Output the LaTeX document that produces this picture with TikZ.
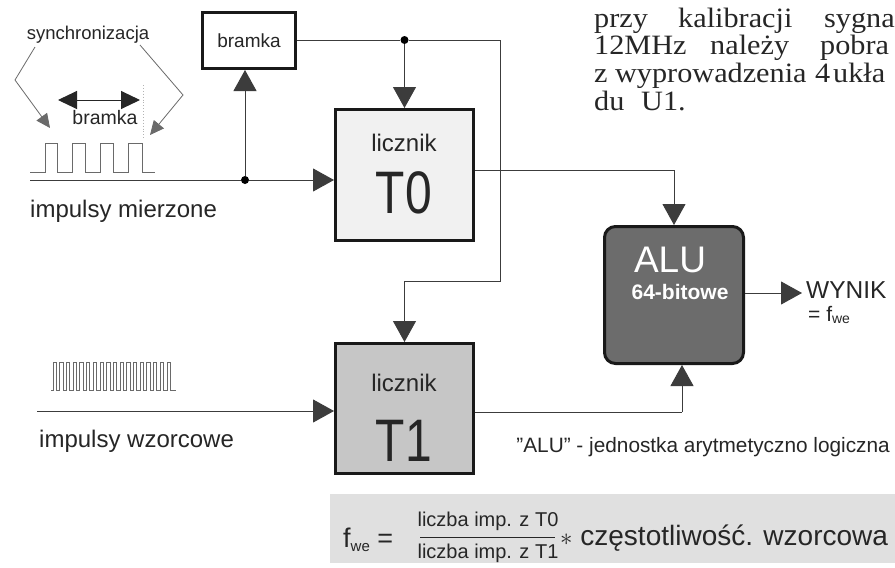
\documentclass[tikz,border=0pt]{standalone}
\usepackage{fontspec}
\setmainfont{Liberation Sans}
\newfontfamily\serifpar[FakeStretch=1.08]{Liberation Serif}
\newfontfamily\narrowsans[FakeStretch=0.8]{Liberation Sans}
\usetikzlibrary{arrows.meta,calc}
\newcommand\fsz[1]{\fontsize{#1pt}{#1pt}\selectfont}
\definecolor{wirec}{HTML}{3C3C3C}
\definecolor{sigc}{HTML}{6A6A6A}
\definecolor{tzero}{HTML}{F1F1F1}
\definecolor{tone}{HTML}{C6C6C6}
\definecolor{aluc}{HTML}{6C6C6C}
\definecolor{bandc}{HTML}{E0E0E0}
\definecolor{txtc}{HTML}{262626}
\tikzset{
  wire/.style={draw=wirec, line width=0.9pt},
  bigtip/.style={-{Triangle[length=21pt,width=23pt]}},
  smalltip/.style={-{Triangle[length=14pt,width=13pt]}},
  blockbox/.style={draw=black!90, line width=3pt, inner sep=0pt},
  junction/.style={circle, fill=black, inner sep=0pt, minimum size=8pt},
  lbl/.style={text=txtc, inner sep=0pt},
  parword/.style={text=txtc, inner sep=0pt, anchor=base west, font=\serifpar\fsz{28}},
}
\begin{document}
\begin{tikzpicture}[x=1pt,y=-1pt]
\useasboundingbox (0,0) rectangle (895,568);
\fill[white] (0,0) rectangle (895,568);

% formula band
\fill[bandc] (330,494) rectangle (895,563);

% blocks
\node[blockbox, fill=white, minimum width=93pt, minimum height=56pt] (bramka) at (249,40.5) {};
\node[lbl, font=\fsz{19}] at (bramka.center) {bramka};
\node[blockbox, fill=tzero, minimum width=138pt, minimum height=131pt] (T0) at (404.5,175) {};
\node[blockbox, fill=tone, minimum width=138pt, minimum height=130pt] (T1) at (404.5,408.5) {};
\node[blockbox, fill=aluc, rounded corners=11pt, minimum width=139pt, minimum height=137pt] (ALU) at (674,295) {};

\node[lbl, font=\fsz{24}] (l0) at (404,143) {licznik};
\node[lbl, font=\narrowsans\fsz{60}] (n0) at (404,193) {T0};
\node[lbl, font=\fsz{24}] (l1) at (404,383) {licznik};
\node[lbl, font=\narrowsans\fsz{60}] (n1) at (404,441) {T1};
\node[lbl, text=white, anchor=base, text depth=0pt, font=\fsz{37}] (alut) at (670,272) {ALU};
\node[lbl, text=white, anchor=base, text depth=0pt, font=\bfseries\fsz{21}] (alub) at (680,299) {64-bitowe};

% coordinates
\coordinate (c1) at (500,40);
\coordinate (c2) at (500,281);
\coordinate (inm) at (30,180);
\coordinate (inw) at (37,411);
\coordinate (k1) at (674,170);
\coordinate (k2) at (682,412);
\coordinate (k3) at (802,293);

% junctions
\node[junction] (j1) at (T0.north |- c1) {};
\node[junction] (j2) at (245,180) {};

% connectors
\draw[wire] (bramka.east |- c1) -- (j1) -- (c1) -- (c2) -- (c2 -| T1.north);
\draw[wire, bigtip] (c2 -| T1.north) -- (T1.north);
\draw[wire, bigtip] (j1) -- (T0.north);
\draw[wire] (inm) -- (j2);
\draw[wire, bigtip] (j2) -- (inm -| T0.west);
\draw[wire, bigtip] (j2) -- (j2 |- bramka.south);
\draw[wire] (T0.east |- k1) -- (k1);
\draw[wire, bigtip] (k1) -- (ALU.north);
\draw[wire, bigtip] (inw) -- (inw -| T1.west);
\draw[wire] (T1.east |- k2) -- (k2);
\draw[wire, bigtip] (k2) -- (k2 |- ALU.south);
\draw[wire, bigtip] (k3 -| ALU.east) -- (k3);

% output text
\node[lbl, anchor=west, font=\fsz{24.5}] (wynik) at (806,290) {WYNIK};
\node[lbl, anchor=west, font=\fsz{21}] (fwe) at (808,315) {= f\raisebox{-0.25ex}{\fsz{14}we}};

% input labels
\node[lbl, anchor=west, font=\fsz{24}] (im) at (30,211) {impulsy mierzone};
\node[lbl, anchor=west, font=\fsz{24}] (iw) at (39,441) {impulsy wzorcowe};

% measured waveform
\draw[sigc, line width=0.8pt] (30,172) -- (45,172) -- (45,143) -- (57,143) -- (57,172)
  -- (72,172) -- (72,143) -- (85,143) -- (85,172) -- (100,172) -- (100,143) -- (113,143)
  -- (113,172) -- (128,172) -- (128,143) -- (142,143) -- (142,172) -- (155,172);

% reference waveform
\draw[sigc, line width=0.7pt] (51,390)
  \foreach \i in {0,...,17} {
    -- ({53+6.7*\i},390) -- ({53+6.7*\i},362) -- ({56.3+6.7*\i},362) -- ({56.3+6.7*\i},390)
  } -- (176,390);

% synchronizacja
\node[lbl, font=\fsz{18.5}] (sync) at (88,35) {synchronizacja};
\coordinate (s1) at (35,47);
\coordinate (s2) at (15,80);
\coordinate (s3) at (50,128);
\coordinate (s4) at (140,45);
\coordinate (s5) at (183,95);
\coordinate (s6) at (150,135);
\draw[sigc, line width=0.8pt, smalltip] (s1) -- (s2) -- (s3);
\draw[sigc, line width=0.8pt, smalltip] (s4) -- (s5) -- (s6);
\draw[black!85, line width=0.9pt, dotted, opacity=0.35] (143,85) -- (143,140);
\coordinate (g1) at (58,100);
\coordinate (g2) at (140,100);
\draw[black!85, line width=1pt, {Triangle[length=19pt,width=18pt]}-{Triangle[length=19pt,width=18pt]}] (g1) -- (g2);
\node[lbl, font=\fsz{19.5}] (gate) at (105,118) {bramka};

% ALU caption
\node[lbl, anchor=east, font=\fsz{20.8}] (cap) at (890,447) {"ALU" - jednostka arytmetyczno logiczna};

% formula
\node[lbl, anchor=west, font=\fsz{27}] (fl) at (343,540) {f\raisebox{-0.3ex}{\fsz{15}we} =};
\node[lbl, font=\fsz{20}] (num) at (488,521) {liczba imp. z T0};
\node[lbl, font=\fsz{20}] (den) at (488,553) {liczba imp. z T1};
\draw[txtc, line width=1pt] (420,537) -- (555,537);
\node[lbl, anchor=west, font=\fsz{28}] (rest) at (560,538) {$\ast$ częstotliwość. wzorcowa};

% paragraph fragment (top right, cut by the edge)
\node[parword] (p1) at (594,27) {przy};
\node[parword] (p2) at (678,27) {kalibracji};
\node[parword] (p3) at (824,27) {sygna};
\node[parword] (p4) at (594,54) {12MHz};
\node[parword] (p5) at (710,54) {należy};
\node[parword] (p6) at (820,54) {pobra};
\node[parword] (p7) at (594,82) {z wyprowadzenia};
\node[parword] (p8) at (815,82) {4};
\node[parword] (p9) at (833,82) {ukła};
\node[parword] (p10) at (594,110) {du\hspace{0.6em}U1.};
\end{tikzpicture}
\end{document}
